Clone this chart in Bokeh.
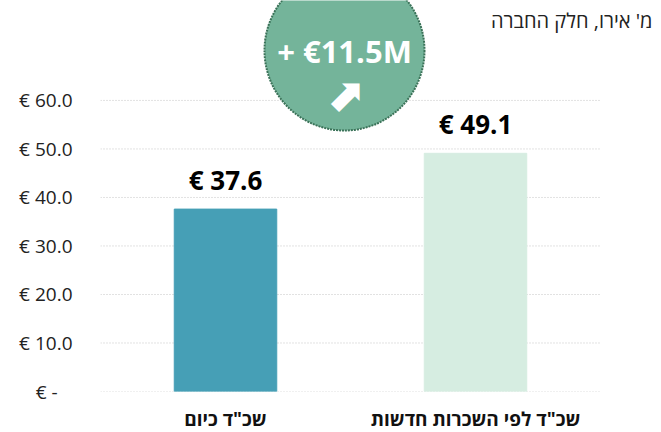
from bokeh.plotting import figure
from bokeh.models import ColumnDataSource, FixedTicker, Range1d, Label
from bokeh.core.properties import value
from bokeh.embed import file_html
from bokeh.resources import INLINE

categories = ['שכ"ד כיום', 'שכ"ד לפי השכרות חדשות']
values = [37.6, 49.1]
bar_colors = ["#469FB6", "#D6EDE1"]
value_labels = ["€ 37.6", "€ 49.1"]
tick_values = [0, 10, 20, 30, 40, 50, 60]
tick_labels = ["€ -\u00a0\u00a0\u00a0", "€ 10.0", "€ 20.0", "€ 30.0", "€ 40.0", "€ 50.0", "€ 60.0"]
unit_title = "מ' אירו, חלק החברה"
delta_text = "+ €11.5M"

FONT = "Open Sans"

n = len(categories)
xs = [i + 0.5 for i in range(n)]

p = figure(x_range=Range1d(0, 2.244), y_range=Range1d(0, 80.6),
           frame_width=561, frame_height=391,
           min_border_top=0, min_border_left=100, min_border_right=0, min_border_bottom=41,
           output_backend="svg", toolbar_location=None)
p.outline_line_color = None
p.background_fill_color = "white"

# dotted horizontal grid, only across the category area
p.segment(x0=[0] * len(tick_values), x1=[n] * len(tick_values), y0=tick_values, y1=tick_values,
          line_color="#C4C4C4", line_dash="1 2", line_width=1)

src = ColumnDataSource(dict(x=xs, top=values, color=bar_colors, label=value_labels))
p.vbar(x="x", top="top", width=0.41, color="color", source=src)
p.text(x="x", y="top", text="label", source=src, text_align="center", text_baseline="bottom",
       y_offset=-11, text_font=value(FONT), text_font_style="bold", text_font_size="26px",
       text_color="black")

# difference bubble, between the two bars
cx = sum(xs) / n - 0.024
cy = 70.3
p.scatter(x=[cx], y=[cy], size=160, marker="circle", fill_color="#74B49A",
          line_color="#3A7258", line_width=2, line_dash="2 1")
p.text(x=[cx], y=[cy], text=[delta_text], text_align="center", text_baseline="middle",
       y_offset=1, text_font=value(FONT), text_font_style="bold",
       text_font_size="31px", text_color="white")
p.text(x=[cx], y=[cy], text=["⬈"], text_align="center", text_baseline="middle",
       y_offset=45, text_font=value("DejaVu Sans"), text_font_style="bold",
       text_font_size="46px", text_color="white")

p.add_layout(Label(x=2.208, y=76.5, text=unit_title, text_align="right", text_baseline="middle",
                   text_font=FONT, text_font_size="20px", text_color="#222222"))

p.xgrid.grid_line_color = None
p.ygrid.grid_line_color = None

p.yaxis.ticker = FixedTicker(ticks=tick_values)
p.yaxis.major_label_overrides = {t: l for t, l in zip(tick_values, tick_labels)}
p.yaxis.axis_line_color = None
p.yaxis.major_tick_line_color = None
p.yaxis.minor_tick_line_color = None
p.yaxis.major_tick_out = 0
p.yaxis.major_label_standoff = 28
p.yaxis.major_label_text_font = FONT
p.yaxis.major_label_text_font_size = "19px"
p.yaxis.major_label_text_color = "#222222"

p.xaxis.ticker = FixedTicker(ticks=xs)
p.xaxis.major_label_overrides = {x: c for x, c in zip(xs, categories)}
p.xaxis.axis_line_color = None
p.xaxis.major_tick_line_color = None
p.xaxis.minor_tick_line_color = None
p.xaxis.major_tick_out = 0
p.xaxis.major_label_standoff = 14
p.xaxis.major_label_text_font = FONT
p.xaxis.major_label_text_font_style = "bold"
p.xaxis.major_label_text_font_size = "19px"
p.xaxis.major_label_text_color = "#111111"

open("out.html", "w").write(file_html(p, INLINE))
